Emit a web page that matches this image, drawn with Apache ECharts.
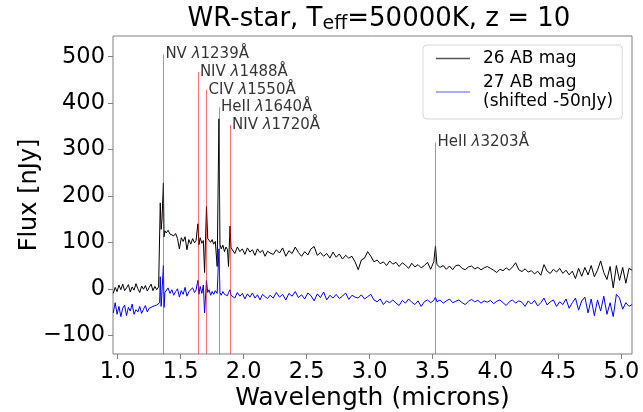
<!DOCTYPE html>
<html><head><meta charset="utf-8">
<script src="https://cdn.jsdelivr.net/npm/echarts@6/dist/echarts.min.js"></script>
<style>html,body{margin:0;padding:0;background:#fff}#c{width:643px;height:412px}</style>
</head><body><div id="c"></div>
<script>
const wavelength = [
 0.965,0.98,0.995,1.01,1.025,1.04,1.055,1.07,1.085,1.1,1.115,1.13,1.145,1.16,1.175,1.19,1.205,1.22,1.235,1.25,1.265,1.28,1.295,1.31,1.325,
 1.333,1.338,1.345,1.352,1.3629,1.368,1.375,
 1.385,1.4,1.415,1.43,1.445,1.46,1.475,1.49,1.505,1.52,1.535,1.55,1.565,1.58,1.595,1.61,1.622,
 1.6368,1.645,1.655,1.668,1.68,1.69,1.705,1.715,1.725,1.738,1.75,1.762,1.775,1.79,1.804,1.812,1.822,1.835,1.848,1.86,1.872,1.88,1.892,1.9,
 1.91,1.93,1.95,1.97,1.99,2.01,2.03,2.05,2.07,2.09,2.11,2.13,2.15,2.17,2.19,2.21,
 2.235,2.26,2.285,2.31,2.335,2.36,2.385,2.41,2.435,2.46,
 2.485,2.51,2.535,2.56,2.585,2.61,2.635,2.66,2.685,2.71,
 2.735,2.76,2.785,2.81,2.835,2.86,2.885,2.91,2.935,2.96,
 2.985,3.01,3.035,3.06,3.085,3.11,3.135,3.16,3.185,3.21,
 3.235,3.26,3.285,3.31,3.335,3.36,3.385,3.41,3.435,3.46,
 3.485,3.51,3.5233,3.535,3.56,3.585,3.61,3.635,3.66,3.685,
 3.71,3.735,3.76,3.785,3.81,3.835,3.86,3.885,3.91,3.935,
 3.96,3.985,4.01,4.035,4.06,4.085,4.11,4.135,4.16,4.185,
 4.21,4.235,4.26,4.285,4.31,4.335,4.36,4.385,4.41,4.435,
 4.46,4.485,4.51,4.535,4.56,4.585,4.61,4.635,4.66,4.685,
 4.71,4.735,4.76,4.785,4.81,4.835,4.86,4.885,4.91,4.935,
 4.96,4.985,5.01,5.035,5.06,5.085
];
const flux26 = [
 -10,3,-6,8,-2,10,-4,2,9,-7,4,-3,11,0,-8,6,-1,7,-5,3,10,-4,5,-2,4,
 6,185,128,150,228,112,125,
 120,126,118,122,114,119,108,86,110,102,112,84,106,96,108,99,104,
 140,95,110,98,104,35,177,108,112,100,106,96,102,48,366,96,86,94,80,90,84,48,135,88,
 84,76,90,80,86,74,88,79,84,72,86,78,83,70,81,77,
 74,84,77,88,70,82,76,90,78,70,
 80,73,86,91,72,78,70,76,66,79,
 68,75,64,72,66,70,58,41,62,66,
 80,70,58,62,54,58,50,60,53,57,
 48,56,51,44,55,47,52,45,50,57,
 42,58,92,52,46,50,42,49,41,50,
 51,44,41,47,49,43,46,41,45,48,
 44,40,35,42,39,45,40,47,56,41,
 37,43,36,39,32,38,29,52,38,33,
 42,36,44,33,40,30,38,22,44,27,
 46,30,50,26,40,60,35,20,48,2,
 50,18,46,12,44,40
];
const flux27 = [
 -52,-30,-55,-38,-60,-42,-35,-58,-40,-48,-33,-55,-45,-50,-38,-53,-44,-36,-50,-42,-46,-38,-40,-35,-36,
 -30,26,-38,-5,50,-40,-8,
 -5,2,-10,-2,-14,-6,0,-18,-4,-12,3,-16,-6,-10,2,-8,-3,
 18,-12,5,-10,8,-52,18,-8,-2,-14,-6,-12,-4,-10,86,-8,-14,-6,-12,-9,-15,-8,-2,-14,
 -12,-20,-8,-16,-10,-22,-11,-18,-9,-20,-13,-24,-12,-17,-21,-14,
 -20,-8,-18,-12,-24,-10,-16,-6,-19,-13,
 -22,-9,-15,-26,-11,-19,-7,-24,-14,-20,
 -12,-21,-16,-9,-23,-14,-18,-20,-13,-22,
 -17,-12,-24,-28,-22,-34,-26,-30,-24,-31,
 -36,-25,-31,-22,-29,-34,-26,-38,-28,-24,
 -30,-25,-18,-28,-24,-31,-26,-22,-30,-27,
 -24,-30,-34,-27,-23,-28,-25,-31,-26,-29,
 -25,-32,-27,-24,-30,-36,-28,-24,-31,-26,
 -29,-38,-26,-33,-25,-37,-30,-20,-35,-28,
 -24,-38,-28,-34,-22,-42,-30,-20,-46,-26,
 -18,-52,-22,-58,-24,-48,-16,-55,-30,-60,
 -12,-20,-44,-30,-38,-34
];
const lineNames = ['NV', 'NIV', 'CIV', 'HeII', 'NIV', 'HeII'];
const lineRest = ['1239', '1488', '1550', '1640', '1720', '3203'];
const lineWave = [1.3629, 1.6368, 1.705, 1.804, 1.892, 3.5233];
const lineTop = [505, 467, 429, 391, 353, 315];
const xTicks = [1.0, 1.5, 2.0, 2.5, 3.0, 3.5, 4.0, 4.5, 5.0];
const yTicks = [-100, 0, 100, 200, 300, 400, 500];
const X_MIN = 0.9627, X_MAX = 5.084, Y_MIN = -140.5, Y_MAX = 544.5;

const chart = echarts.init(document.getElementById('c'), null, {renderer: 'canvas'});
const ff = 'DejaVu Sans';
const black = wavelength.map((w, i) => [w, flux26[i]]);
const blue = wavelength.map((w, i) => [w, flux27[i]]);

const option = {
  animation: false,
  textStyle: {fontFamily: ff},
  title: {
    text: '{a|WR-star, T}{s|eff}{a|=50000K, z = 10}',
    left: 374, top: 0, textAlign: 'center',
    textStyle: {fontWeight: 'normal', rich: {
      a: {fontSize: 26, color: '#000', fontFamily: ff, fontWeight: 'normal'},
      s: {fontSize: 19, color: '#000', fontFamily: ff, fontWeight: 'normal', padding: [10, 0, 0, 0]}
    }}
  },
  grid: {left: 113, top: 36, width: 519, height: 318, show: true, borderColor: '#808080', borderWidth: 1,
         containLabel: false, outerBoundsMode: 'none'},
  xAxis: {
    type: 'value', min: X_MIN, max: X_MAX,
    axisLine: {show: false, onZero: false}, splitLine: {show: false},
    axisTick: {show: true, customValues: xTicks, length: 5, lineStyle: {color: '#808080'}},
    axisLabel: {customValues: xTicks, formatter: v => v.toFixed(1), fontSize: 22.5, color: '#000', margin: 7, fontFamily: ff},
    name: 'Wavelength (microns)', nameLocation: 'middle', nameGap: 32, nameMoveOverlap: false,
    nameTextStyle: {fontSize: 25, color: '#000', fontFamily: ff}
  },
  yAxis: {
    type: 'value', min: Y_MIN, max: Y_MAX,
    axisLine: {show: false, onZero: false}, splitLine: {show: false},
    axisTick: {show: true, customValues: yTicks, length: 5, lineStyle: {color: '#808080'}},
    axisLabel: {customValues: yTicks, formatter: v => v < 0 ? '\u2212' + Math.abs(v) : String(v), fontSize: 22.5, color: '#000', margin: 8, fontFamily: ff},
    name: 'Flux [nJy]', nameLocation: 'middle', nameGap: 71, nameMoveOverlap: false,
    nameTextStyle: {fontSize: 24, color: '#000', fontFamily: ff}
  },
  legend: {
    data: [
      {name: '26 AB mag', itemStyle: {color: '#555'}, lineStyle: {color: '#555'}},
      {name: '27 AB mag', itemStyle: {color: '#9090ff'}, lineStyle: {color: '#9090ff'}}
    ],
    orient: 'vertical', left: 423, top: 45, padding: [4, 9, 8, 13], itemGap: 5,
    itemWidth: 34, itemHeight: 1.5, icon: 'rect',
    formatter: n => n === '27 AB mag' ? '27 AB mag\n(shifted -50nJy)' : n,
    textStyle: {fontSize: 17, color: '#000', lineHeight: 19, padding: [0, 0, 0, 8], fontFamily: ff},
    backgroundColor: 'rgba(255,255,255,0.8)', borderColor: '#d5d5d5', borderWidth: 1, borderRadius: 4
  },
  series: [
    {name: '26 AB mag', type: 'line', data: black, symbol: 'none', showSymbol: false,
     lineStyle: {color: '#000', width: 1}, itemStyle: {color: '#000'}, z: 2},
    {name: '27 AB mag', type: 'line', data: blue, symbol: 'none', showSymbol: false,
     lineStyle: {color: '#0000ff', width: 1}, itemStyle: {color: '#0000ff'}, z: 2,
     markLine: {
       silent: true, symbol: ['none', 'none'], animation: false,
       label: {show: false},
       lineStyle: {color: 'rgba(255,0,0,0.55)', width: 1, type: 'solid'},
       emphasis: {disabled: true},
       data: lineWave.map((w, i) => [{coord: [w, Y_MIN]}, {coord: [w, lineTop[i]]}])
     }},
    {name: 'lines', type: 'scatter', silent: true, symbolSize: 0, z: 4,
     itemStyle: {color: 'rgba(0,0,0,0)'},
     data: lineWave.map((w, i) => ({value: [w, lineTop[i]], idx: i})),
     label: {
       show: true, position: 'right', distance: 2,
       formatter: p => '{n|' + lineNames[p.dataIndex] + ' }{l|λ}{n|' + lineRest[p.dataIndex] + 'Å}',
       rich: {
         n: {fontSize: 15, color: '#000', fontFamily: ff},
         l: {fontSize: 15, color: '#000', fontFamily: ff, fontStyle: 'italic'}
       }
     }}
  ]
};
chart.setOption(option);
</script>
</body></html>
